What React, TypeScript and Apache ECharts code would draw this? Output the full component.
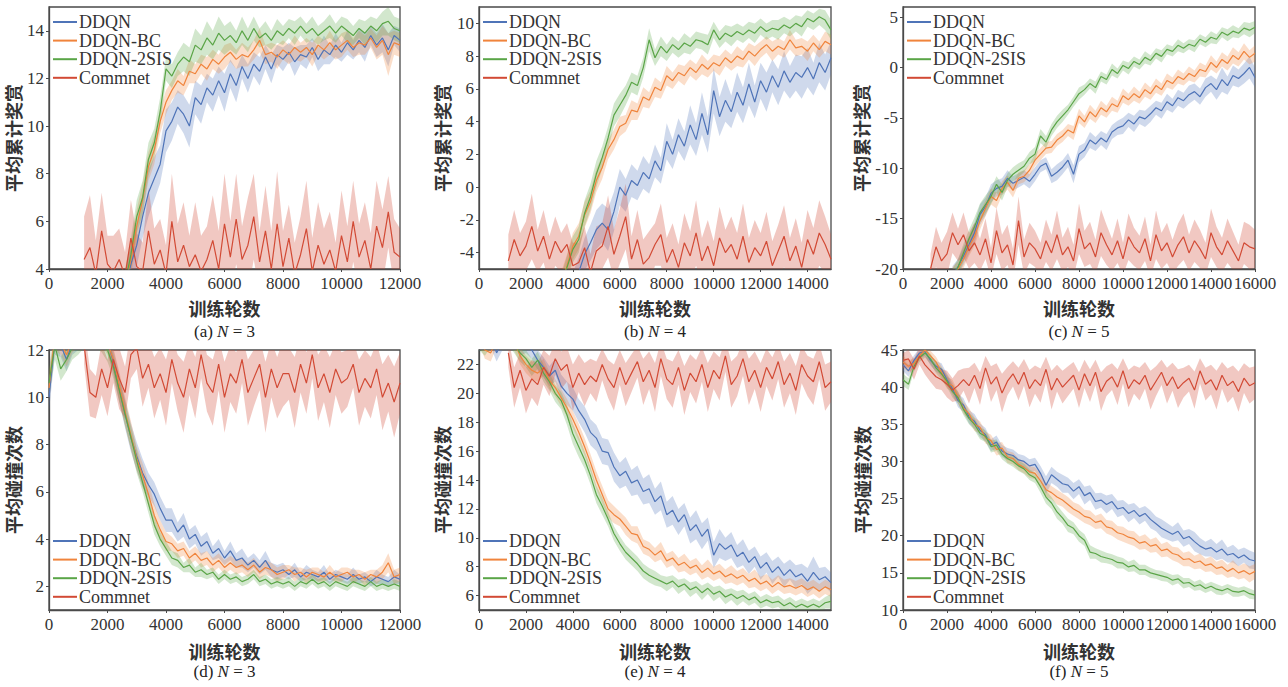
import React, { useEffect, useRef } from "react";
import * as echarts from "echarts";

const NAMES = ["DDQN", "DDQN-BC", "DDQN-2SIS", "Commnet"];
const COLORS = ["#4f74b8", "#f0843c", "#5aa547", "#d24a35"];
const BAND_COLORS = ["rgba(79,116,184,0.27)", "rgba(240,132,60,0.27)", "rgba(90,165,71,0.27)", "rgba(210,74,53,0.3)"];

const X_TICKS_12K = [0, 2000, 4000, 6000, 8000, 10000, 12000];
const X_TICKS_15K = [0, 2000, 4000, 6000, 8000, 10000, 12000, 14000];
const X_TICKS_16K = [0, 2000, 4000, 6000, 8000, 10000, 12000, 14000, 16000];
const Y_TICKS_A = [4, 6, 8, 10, 12, 14];
const Y_TICKS_B = [-4, -2, 0, 2, 4, 6, 8, 10];
const Y_TICKS_C = [-20, -15, -10, -5, 0, 5];
const Y_TICKS_D = [2, 4, 6, 8, 10, 12];
const Y_TICKS_E = [6, 8, 10, 12, 14, 16, 18, 20, 22];
const Y_TICKS_F = [10, 15, 20, 25, 30, 35, 40, 45];

// ---------- (a) N=3 reward, step 200 ----------
const A_DDQN = [2.2,3.1,4.2,5.0,6.2,7.2,7.8,8.4,9.8,10.2,10.8,10.5,10.0,11.2,10.9,11.6,11.3,11.9,11.4,12.2,11.7,12.5,12.0,12.6,12.3,12.9,12.4,13.0,12.8,13.1,12.7,13.0,12.9,13.3,12.8,13.2,13.0,13.4,13.1,13.5,13.2,13.6,13.3,13.8,13.4,13.7,13.2,13.8,13.6];
const A_DDQN_W = [0.6,0.7,0.8,0.9,0.9,1.0,0.9,0.8,0.9,0.8,0.7,0.8,0.9,0.7,0.8,0.6,0.7,0.6,0.8,0.6,0.7,0.5,0.6,0.5,0.6,0.5,0.6,0.4,0.5,0.4,0.6,0.4,0.5,0.4,0.5,0.6,0.4,0.5,0.4,0.5,0.4,0.5,0.6,0.4,0.5,0.6,0.7,0.4,0.5];
const A_BC = [2.4,3.3,4.4,5.8,6.9,8.3,9.0,10.2,11.0,11.5,11.9,11.7,12.3,12.2,12.6,12.4,12.8,12.6,12.9,13.1,12.8,13.0,12.9,13.2,13.6,13.0,13.1,12.9,13.2,13.0,13.3,13.1,13.3,13.0,13.4,13.2,13.5,13.2,13.4,13.6,13.3,13.5,13.4,13.7,13.3,13.6,13.0,13.5,13.4];
const A_BC_W = [0.5,0.6,0.7,0.7,0.7,0.6,0.6,0.5,0.5,0.4,0.5,0.4,0.5,0.4,0.4,0.5,0.4,0.4,0.5,0.4,0.4,0.5,0.4,0.4,0.5,0.4,0.4,0.5,0.4,0.4,0.5,0.4,0.4,0.5,0.4,0.4,0.5,0.4,0.5,0.4,0.4,0.5,0.4,0.4,0.5,0.6,0.9,0.5,0.5];
const A_2SIS = [2.5,3.4,4.6,6.2,7.0,8.6,9.3,10.6,12.4,12.1,12.6,12.9,12.7,13.4,13.2,13.7,13.4,13.9,13.6,13.8,13.5,14.0,13.6,14.1,13.7,13.9,13.6,14.0,13.8,14.1,13.9,14.2,13.9,14.1,13.8,14.0,14.2,13.9,14.2,14.0,13.8,14.1,13.9,14.2,14.0,14.3,14.4,14.1,14.0];
const A_2SIS_W = [0.5,0.6,0.7,0.7,0.7,0.7,0.6,0.6,0.5,0.5,0.5,0.6,0.6,0.7,0.6,0.7,0.6,0.7,0.6,0.6,0.5,0.6,0.5,0.5,0.4,0.5,0.4,0.5,0.4,0.4,0.5,0.4,0.4,0.5,0.4,0.4,0.5,0.4,0.4,0.5,0.4,0.4,0.5,0.4,0.5,0.5,0.6,0.5,0.5];
const A_COMM = [4.4,4.9,3.8,5.6,4.2,3.9,4.4,3.7,5.3,4.1,3.9,5.6,4.2,4.8,3.8,6.0,4.3,5.0,4.1,4.6,3.9,4.4,5.2,4.0,5.9,4.5,6.1,4.4,5.0,6.2,4.3,5.6,4.0,5.9,4.1,5.3,3.8,4.6,5.7,3.9,5.0,4.2,4.8,3.9,5.4,4.3,6.0,4.5,5.2,4.0,5.8,4.9,6.4,4.7,4.5];
const A_COMM_W = [1.8,2.2,1.4,1.6,1.2,1.5,1.3,1.0,1.6,1.4,1.2,1.8,1.5,1.3,1.2,2.0,1.6,1.8,1.3,2.2,1.5,1.4,1.9,1.6,2.1,1.5,1.9,1.4,2.0,1.8,1.3,1.9,1.6,2.2,1.5,1.4,1.3,1.6,2.0,1.4,1.8,1.5,1.6,1.2,1.9,1.5,1.7,1.4,1.6,1.5,1.9,1.6,1.5,1.4,1.2];

// ---------- (b) N=4 reward, step 250 ----------
const B_DDQN = [-6.0,-5.2,-4.1,-3.4,-2.6,-2.2,-2.6,-1.5,0.0,-0.5,0.4,0.1,0.9,0.5,1.6,1.0,2.8,2.0,3.2,2.5,3.8,2.9,4.5,3.2,5.9,4.3,5.3,4.6,5.8,5.0,6.3,5.2,6.5,5.8,6.8,6.1,7.1,6.4,7.0,6.7,7.3,6.6,7.6,7.0,7.9];
const B_DDQN_W = [0.8,0.9,1.0,1.1,1.2,1.2,1.3,1.2,1.1,1.0,1.0,0.9,1.0,0.9,1.0,0.8,1.1,0.9,1.0,0.9,1.2,1.0,1.3,1.1,1.4,1.2,1.3,1.0,1.2,1.1,1.3,1.0,1.1,1.2,1.0,1.1,1.2,1.0,1.1,1.3,1.2,1.0,1.2,1.1,1.0];
const B_BC = [-5.8,-4.8,-3.6,-3.0,-1.7,-0.9,0.4,1.2,2.3,2.9,3.7,3.9,4.7,4.6,5.5,5.3,6.1,5.9,6.8,6.5,7.0,6.8,7.3,7.0,7.5,7.2,7.6,7.4,7.9,7.6,8.0,7.8,8.3,8.0,8.4,8.7,8.3,8.6,8.4,9.0,8.5,8.6,8.3,8.8,8.4,8.9,8.7];
const B_BC_W = [0.6,0.7,0.8,0.8,0.8,0.7,0.7,0.7,0.6,0.6,0.6,0.5,0.6,0.5,0.6,0.5,0.6,0.5,0.6,0.5,0.5,0.6,0.5,0.5,0.6,0.5,0.5,0.6,0.5,0.5,0.6,0.5,0.5,0.6,0.5,0.5,0.6,0.5,0.5,0.6,0.5,0.5,0.6,0.5,0.5,0.6,0.6];
const B_2SIS = [-6.0,-4.9,-3.8,-3.2,-1.6,-0.6,0.8,1.8,3.0,4.4,5.0,5.6,6.4,6.2,7.3,9.0,7.9,8.6,8.2,8.7,8.4,8.8,8.6,9.0,8.9,8.7,9.6,9.0,9.4,9.2,9.5,9.3,9.6,9.4,9.8,9.5,9.7,9.6,9.9,9.7,10.0,9.8,10.3,10.1,10.4,10.2,9.6];
const B_2SIS_W = [0.6,0.7,0.8,0.8,0.8,0.8,0.8,0.7,0.7,0.7,0.7,0.6,0.6,0.6,0.6,0.7,0.5,0.6,0.5,0.5,0.5,0.6,0.5,0.5,0.5,0.6,0.5,0.5,0.5,0.6,0.5,0.5,0.5,0.6,0.5,0.5,0.5,0.6,0.5,0.5,0.5,0.6,0.5,0.5,0.5,0.6,0.6];
const B_COMM = [-4.5,-3.2,-4.2,-3.6,-2.4,-3.9,-3.0,-4.4,-3.3,-4.0,-3.5,-4.8,-4.6,-3.7,-5.2,-3.9,-3.6,-2.4,-4.1,-3.0,-1.8,-4.4,-3.2,-4.7,-4.3,-3.5,-2.9,-4.6,-3.8,-4.9,-3.4,-4.2,-2.8,-4.5,-3.6,-4.8,-3.1,-4.0,-3.5,-4.4,-3.0,-4.6,-3.7,-4.2,-3.3,-4.8,-3.9,-3.0,-4.5,-3.6,-4.9,-3.2,-4.1,-2.8,-3.5,-4.4];
const B_COMM_W = [1.6,1.8,1.4,1.5,2.0,1.3,1.6,1.4,1.5,1.2,1.3,1.4,1.2,1.3,1.1,1.5,1.4,1.9,1.5,1.7,2.0,1.4,1.8,1.5,1.6,1.3,1.9,1.5,1.6,1.4,1.8,1.5,2.0,1.4,1.6,1.5,1.9,1.4,1.7,1.6,2.0,1.5,1.7,1.4,1.8,1.5,1.6,1.9,1.4,1.7,1.5,1.8,1.6,2.0,1.7,1.5];

// ---------- (c) N=5 reward, step 250 ----------
const C_DDQN = [-20.5,-19.8,-18.7,-17.6,-16.4,-14.6,-13.8,-12.5,-12.0,-11.8,-11.0,-11.5,-11.2,-10.9,-11.3,-10.6,-9.8,-9.5,-10.8,-10.4,-9.9,-9.2,-10.6,-8.6,-8.2,-7.2,-7.6,-7.0,-7.4,-6.4,-6.0,-5.8,-5.2,-5.6,-4.9,-5.1,-4.6,-4.0,-4.3,-3.4,-3.8,-3.0,-3.3,-2.7,-2.4,-2.9,-2.0,-1.6,-2.2,-1.2,-1.8,-0.8,-1.1,-0.6,0.0,-1.0];
const C_DDQN_W = [0.8,0.8,0.9,0.9,1.0,1.0,0.9,0.9,0.8,0.8,0.8,0.7,0.7,0.7,0.7,0.7,0.6,0.6,0.7,0.8,0.7,0.7,0.9,0.8,0.7,0.8,0.7,0.7,0.8,0.7,0.7,0.8,0.7,0.8,0.7,0.8,0.8,0.7,0.8,0.8,0.7,0.8,0.8,0.9,0.8,0.8,0.9,0.8,1.0,1.2,0.9,1.0,0.9,1.0,1.1,1.0];
const C_BC = [-20.6,-20.0,-19.0,-17.8,-16.8,-15.2,-14.0,-12.8,-13.2,-12.0,-11.4,-12.2,-11.0,-10.8,-10.2,-9.2,-8.6,-8.0,-7.9,-7.2,-6.8,-6.2,-6.5,-4.8,-5.4,-4.4,-4.9,-4.0,-4.4,-3.6,-3.9,-2.8,-3.2,-2.6,-3.0,-2.2,-2.6,-1.8,-2.2,-1.3,-1.6,-0.9,-1.2,-0.6,-0.9,-0.2,-0.4,0.5,0.0,0.8,0.4,1.2,0.8,1.6,1.0,1.4];
const C_BC_W = [0.8,0.8,0.9,0.9,0.9,0.9,0.8,0.8,0.8,0.7,0.7,0.7,0.6,0.6,0.6,0.6,0.6,0.6,0.6,0.6,0.6,0.6,0.7,0.7,0.6,0.7,0.6,0.7,0.6,0.7,0.6,0.7,0.6,0.7,0.6,0.7,0.6,0.7,0.6,0.7,0.6,0.7,0.6,0.7,0.6,0.7,0.6,0.7,0.6,0.7,0.7,0.8,0.7,0.8,0.7,0.8];
const C_2SIS = [-20.8,-19.8,-18.4,-17.0,-15.8,-14.4,-13.6,-12.8,-11.6,-12.4,-11.2,-10.6,-10.2,-9.8,-9.0,-8.6,-6.8,-7.4,-6.2,-5.4,-4.8,-4.2,-3.4,-2.6,-2.2,-1.6,-2.0,-0.9,-1.2,-0.2,-0.6,0.2,-0.1,0.6,0.3,1.0,0.7,1.4,1.1,1.8,1.6,2.2,1.9,2.3,2.1,2.8,2.5,3.0,2.8,3.5,3.2,3.6,3.4,3.9,3.7,4.0];
const C_2SIS_W = [0.8,0.8,0.9,0.9,0.9,0.9,0.9,0.8,0.8,0.8,0.7,0.7,0.7,0.6,0.6,0.7,0.7,0.6,0.6,0.6,0.6,0.5,0.5,0.6,0.5,0.5,0.6,0.5,0.5,0.6,0.5,0.5,0.6,0.5,0.5,0.6,0.5,0.5,0.6,0.5,0.5,0.6,0.5,0.5,0.6,0.5,0.5,0.6,0.5,0.5,0.6,0.6,0.5,0.6,0.7,0.6];
const C_COMM = [-20.0,-17.8,-19.2,-18.5,-16.4,-17.6,-16.6,-18.2,-17.4,-18.6,-17.0,-19.4,-16.2,-18.4,-17.6,-19.6,-15.2,-18.8,-17.4,-18.0,-19.0,-17.2,-18.4,-16.6,-18.6,-17.8,-19.2,-16.0,-18.0,-17.4,-18.8,-16.4,-17.6,-18.6,-17.2,-19.0,-16.8,-17.8,-18.4,-17.0,-19.2,-16.6,-18.2,-17.4,-18.8,-17.6,-16.8,-18.4,-17.2,-18.0,-19.0,-16.4,-17.8,-18.6,-17.2,-18.2,-19.2,-17.4,-17.8,-18.0];
const C_COMM_W = [1.5,2.0,1.8,2.2,2.0,1.6,2.2,1.8,2.0,1.6,2.0,1.5,2.3,1.8,2.0,1.6,2.4,1.7,2.0,1.8,1.6,2.1,1.8,2.4,1.7,2.0,1.6,2.5,1.8,2.1,1.7,2.3,2.0,1.6,2.2,1.6,2.3,1.9,1.7,2.2,1.6,2.4,1.8,2.0,1.7,2.1,2.3,1.8,2.1,1.9,1.6,2.4,2.0,1.7,2.2,1.9,1.6,2.1,2.2,1.9];

// ---------- (d) N=3 collisions, step 200 ----------
const D_DDQN = [10.0,12.4,12.2,11.6,12.3,12.5,12.8,13.0,12.9,12.8,12.4,11.5,10.4,9.3,8.3,7.5,6.8,6.3,5.9,5.3,4.8,4.8,4.3,4.6,4.0,4.2,3.7,3.9,3.4,3.6,3.2,3.5,3.1,3.2,2.9,3.1,2.8,3.1,2.7,2.6,2.7,2.5,2.7,2.4,2.6,2.5,2.4,2.6,2.3,2.5,2.4,2.3,2.5,2.3,2.4,2.2,2.4,2.3,2.2,2.4,2.3];
const D_DDQN_W = [0.6,0.6,0.5,0.5,0.5,0.5,0.5,0.5,0.5,0.5,0.5,0.5,0.6,0.6,0.6,0.6,0.6,0.5,0.5,0.5,0.5,0.5,0.4,0.5,0.4,0.4,0.4,0.4,0.3,0.4,0.3,0.4,0.3,0.4,0.3,0.3,0.3,0.4,0.3,0.3,0.3,0.2,0.3,0.2,0.3,0.2,0.2,0.3,0.2,0.2,0.2,0.2,0.3,0.2,0.2,0.2,0.3,0.2,0.2,0.3,0.2];
const D_BC = [10.4,12.6,12.3,11.8,12.4,12.6,12.9,13.1,12.8,12.7,12.3,11.6,10.5,9.4,8.4,7.4,6.7,5.9,5.0,4.4,3.9,3.8,3.5,3.6,3.2,3.4,3.1,3.2,2.9,3.1,2.8,3.0,2.8,2.9,2.7,2.9,2.6,2.8,2.7,2.5,2.6,2.7,2.5,2.6,2.4,2.6,2.5,2.4,2.6,2.4,2.5,2.6,2.4,2.5,2.3,2.5,2.4,2.6,3.0,2.4,2.5];
const D_BC_W = [0.6,0.6,0.5,0.5,0.5,0.5,0.5,0.5,0.5,0.5,0.5,0.5,0.6,0.6,0.6,0.5,0.5,0.5,0.5,0.4,0.4,0.3,0.3,0.3,0.3,0.3,0.3,0.3,0.3,0.3,0.3,0.3,0.3,0.3,0.3,0.3,0.3,0.3,0.3,0.3,0.3,0.2,0.3,0.2,0.3,0.2,0.3,0.2,0.3,0.2,0.3,0.2,0.3,0.2,0.3,0.2,0.3,0.3,0.4,0.3,0.3];
const D_2SIS = [10.6,12.2,11.2,11.6,12.1,12.3,12.6,12.8,12.6,12.4,12.0,11.3,10.3,9.3,8.3,7.3,6.4,5.5,4.6,4.0,3.6,3.2,3.1,2.8,2.9,2.6,2.7,2.5,2.6,2.3,2.5,2.3,2.4,2.2,2.3,2.5,2.2,2.3,2.1,2.2,2.1,2.2,2.0,2.2,2.1,2.3,2.1,2.2,2.0,2.2,2.1,2.0,2.2,2.1,2.0,2.2,2.0,2.1,2.0,2.1,2.0];
const D_2SIS_W = [0.6,0.6,0.5,0.5,0.5,0.5,0.5,0.5,0.5,0.5,0.5,0.5,0.5,0.5,0.5,0.5,0.4,0.4,0.4,0.3,0.3,0.3,0.3,0.2,0.3,0.2,0.3,0.2,0.2,0.2,0.2,0.2,0.2,0.2,0.2,0.2,0.2,0.2,0.2,0.2,0.2,0.2,0.2,0.2,0.2,0.2,0.2,0.2,0.2,0.2,0.2,0.2,0.2,0.2,0.2,0.2,0.2,0.2,0.2,0.2,0.2];
const D_COMM = [12.2,10.2,10.0,11.2,10.4,11.6,10.8,10.2,11.8,12.1,10.8,11.4,10.4,11.0,10.2,11.6,10.6,10.0,11.2,10.4,11.8,10.6,10.2,11.4,10.0,11.0,10.6,11.6,10.2,10.8,11.4,10.0,11.2,10.4,11.0,11.0,10.2,11.4,10.6,11.8,10.4,11.0,10.2,11.2,10.6,10.8,11.4,10.2,10.8,10.4,11.2,10.0,10.6,9.8,10.6];
const D_COMM_W = [0.8,1.0,0.9,1.1,1.2,1.0,1.3,1.1,1.0,0.9,1.2,1.0,1.3,1.1,1.4,1.0,1.2,1.5,1.1,1.3,1.0,1.2,1.4,1.1,1.5,1.2,1.3,1.0,1.4,1.2,1.1,1.5,1.2,1.3,1.4,1.1,1.5,1.2,1.3,1.0,1.4,1.2,1.5,1.1,1.3,1.2,1.0,1.4,1.2,1.3,1.1,1.4,1.2,1.5,1.3];

// ---------- (e) N=4 collisions, step 250 ----------
const E_DDQN = [23.5,24.0,23.8,22.8,23.6,24.2,24.0,23.2,23.4,23.0,22.3,21.8,21.2,21.6,20.5,20.0,19.6,18.8,18.2,17.3,16.9,16.0,15.9,14.9,14.3,14.6,13.8,14.0,13.2,13.4,12.5,12.9,11.6,11.9,11.1,11.6,10.5,10.9,10.1,10.6,8.8,9.6,9.2,9.5,8.7,9.0,8.3,8.7,7.9,8.3,7.6,8.0,7.4,7.8,7.3,7.5,7.0,7.6,7.1,7.3,6.9];
const E_DDQN_W = [0.6,0.6,0.6,0.6,0.6,0.6,0.6,0.6,0.6,0.6,0.7,0.7,0.7,0.8,0.8,0.8,0.8,0.8,0.9,0.9,0.9,0.9,0.9,1.0,0.9,1.0,0.9,1.0,0.9,1.0,0.9,1.0,0.9,1.0,0.9,0.8,0.9,1.0,0.9,0.8,0.9,1.0,0.8,0.9,0.8,0.9,0.8,0.7,0.8,0.7,0.8,0.7,0.8,0.7,0.8,0.7,0.9,1.1,0.8,0.7,0.7];
const E_BC = [24.0,23.0,22.8,23.8,24.2,24.0,23.6,22.6,22.0,21.6,21.4,21.8,20.9,20.4,19.7,19.0,18.2,17.3,16.3,15.2,14.0,13.0,12.0,11.6,11.3,10.8,10.3,10.2,9.4,9.2,8.8,9.1,8.4,8.6,8.1,8.3,7.9,8.1,7.6,7.9,7.5,7.7,7.3,7.5,7.2,7.4,7.0,7.2,6.8,7.0,6.6,6.9,6.6,6.7,6.5,6.7,6.4,6.6,6.3,6.6,6.4];
const E_BC_W = [0.6,0.6,0.6,0.6,0.6,0.6,0.6,0.6,0.6,0.6,0.6,0.6,0.6,0.6,0.6,0.6,0.6,0.6,0.6,0.6,0.6,0.6,0.6,0.6,0.5,0.6,0.5,0.6,0.5,0.5,0.5,0.6,0.5,0.5,0.5,0.6,0.5,0.5,0.5,0.6,0.5,0.5,0.5,0.6,0.5,0.5,0.5,0.6,0.5,0.5,0.5,0.5,0.5,0.5,0.5,0.5,0.5,0.5,0.5,0.5,0.5];
const E_2SIS = [23.6,23.2,23.8,24.0,23.6,24.0,23.4,22.8,22.4,21.8,22.3,21.4,20.8,20.0,19.5,18.5,17.2,16.3,15.4,14.3,13.0,12.2,11.3,10.3,9.6,9.0,8.6,8.2,7.7,7.4,7.2,7.0,6.8,7.0,6.6,6.8,6.4,6.6,6.2,6.5,6.1,6.3,5.9,6.1,5.8,6.0,5.7,5.9,5.5,5.7,5.5,5.6,5.3,5.5,5.2,5.4,5.2,5.4,5.2,5.5,5.6];
const E_2SIS_W = [0.6,0.6,0.6,0.6,0.6,0.6,0.6,0.6,0.6,0.6,0.6,0.6,0.6,0.6,0.6,0.7,0.7,0.7,0.6,0.6,0.6,0.6,0.5,0.5,0.5,0.5,0.5,0.5,0.5,0.5,0.5,0.4,0.5,0.4,0.5,0.4,0.5,0.4,0.5,0.4,0.5,0.4,0.5,0.4,0.5,0.4,0.4,0.4,0.4,0.4,0.4,0.4,0.4,0.4,0.4,0.4,0.4,0.4,0.4,0.4,0.5];
const E_COMM = [22.8,20.4,21.6,20.2,21.0,20.6,21.8,21.2,22.4,21.6,22.0,20.4,21.4,20.6,21.2,20.8,22.0,21.0,20.4,21.8,20.6,21.4,22.2,20.8,21.6,20.4,22.4,21.0,20.6,21.8,20.2,21.4,20.8,22.0,20.4,21.6,21.0,22.6,20.6,21.2,22.4,20.8,21.6,20.4,21.8,21.0,22.2,20.6,21.4,20.2,22.0,21.2,20.8,22.2,20.4,20.8];
const E_COMM_W = [1.0,1.4,1.2,1.6,1.3,1.5,1.2,1.4,1.1,1.3,1.2,1.6,1.3,1.5,1.2,1.4,1.1,1.3,1.6,1.2,1.5,1.3,1.1,1.6,1.3,1.7,1.2,1.4,1.6,1.2,1.7,1.3,1.5,1.2,1.7,1.3,1.5,1.1,1.6,1.4,1.2,1.6,1.3,1.7,1.3,1.5,1.2,1.6,1.4,1.7,1.3,1.4,1.6,1.2,1.6,1.4];

// ---------- (f) N=5 collisions, step 250 ----------
const F_DDQN = [43.0,42.2,43.6,44.6,44.8,43.6,42.8,42.4,41.0,39.8,38.2,37.6,36.0,35.4,34.2,33.6,32.2,32.6,31.4,31.0,30.8,30.2,30.0,29.4,29.6,28.4,26.8,28.2,27.6,27.0,26.8,26.0,26.6,25.4,25.8,24.6,24.8,24.2,24.6,23.6,23.8,23.0,23.4,22.6,23.0,22.2,21.6,21.0,20.6,20.2,20.6,19.6,19.9,19.2,18.6,18.2,18.4,17.8,18.2,17.4,17.6,17.0,17.4,16.8,16.6];
const F_DDQN_W = [0.8,0.8,0.7,0.6,0.6,0.7,0.7,0.8,0.8,0.8,0.9,0.9,0.9,1.0,0.9,0.9,0.8,0.9,0.8,0.8,0.8,0.8,0.8,0.9,0.9,1.0,1.2,1.1,1.0,1.2,1.0,1.1,1.0,1.2,1.0,1.1,1.0,1.2,1.0,1.1,1.0,1.2,1.0,1.1,1.0,1.2,1.0,1.2,1.1,1.0,1.2,1.1,1.0,1.3,1.1,1.0,1.2,1.1,1.3,1.0,1.2,1.1,1.0,1.2,1.1];
const F_BC = [43.4,42.8,43.2,44.2,45.0,44.2,43.4,42.0,40.6,40.2,38.6,37.2,36.4,35.0,34.6,33.2,32.8,31.6,31.8,30.6,30.4,29.6,29.2,28.6,28.4,27.4,26.2,25.8,25.2,24.8,24.2,23.6,23.2,22.6,22.4,21.8,22.0,21.2,21.0,20.4,20.2,19.8,19.6,19.0,19.2,18.6,18.8,18.0,18.2,17.6,17.4,16.8,16.9,16.4,16.6,16.0,16.2,15.6,15.8,15.2,15.6,15.0,15.3,14.8,15.2];
const F_BC_W = [0.8,0.8,0.7,0.6,0.6,0.7,0.7,0.8,0.8,0.8,0.8,0.8,0.8,0.9,0.8,0.8,0.8,0.8,0.8,0.8,0.8,0.8,0.8,0.8,0.8,0.9,1.0,0.9,1.0,0.9,1.0,0.9,1.0,0.9,1.0,0.9,1.0,0.9,1.0,0.9,1.0,0.9,1.0,0.9,1.0,0.9,1.0,0.9,1.0,0.9,1.0,0.9,1.0,0.9,1.0,0.9,1.0,0.9,1.0,0.9,1.1,0.9,1.0,1.1,1.0];
const F_2SIS = [41.0,40.4,42.8,44.0,44.6,43.8,42.6,41.8,40.8,39.4,38.6,37.0,35.8,35.0,33.8,33.4,32.0,32.2,31.0,30.4,30.0,29.4,29.0,28.2,27.8,26.6,25.2,24.4,23.2,22.4,21.4,21.0,20.0,19.4,17.8,17.6,17.2,17.0,16.8,16.4,16.3,15.8,16.0,15.4,15.4,15.0,14.8,14.6,14.4,14.0,14.2,13.6,13.7,13.2,13.4,12.9,13.2,12.8,12.6,12.9,12.5,12.4,12.6,12.2,12.0];
const F_2SIS_W = [0.8,0.8,0.7,0.6,0.6,0.7,0.7,0.8,0.8,0.8,0.8,0.8,0.8,0.8,0.8,0.8,0.8,0.8,0.7,0.7,0.7,0.7,0.7,0.7,0.7,0.8,0.9,0.8,0.9,0.8,0.9,0.8,0.8,0.8,0.9,0.7,0.8,0.7,0.7,0.8,0.7,0.7,0.8,0.7,0.7,0.7,0.6,0.7,0.6,0.7,0.6,0.7,0.6,0.6,0.7,0.6,0.6,0.7,0.6,0.6,0.7,0.6,0.6,0.7,0.6];
const F_COMM = [43.6,43.8,42.4,44.2,43.0,42.2,41.4,41.0,40.4,39.6,40.2,41.0,40.2,41.6,39.8,42.6,40.4,41.4,39.2,40.8,41.8,40.4,42.0,39.8,41.0,40.2,42.4,39.6,41.2,40.0,40.8,41.6,39.6,41.8,40.2,42.0,39.4,40.8,41.4,40.0,42.2,39.8,41.0,40.4,41.6,39.6,40.8,42.0,40.2,41.4,39.8,40.6,41.2,39.6,42.2,40.4,41.0,39.6,41.6,40.2,40.8,39.4,41.2,40.2,40.6];
const F_COMM_W = [1.0,1.2,1.4,1.2,1.3,1.5,1.6,1.4,1.8,1.6,2.0,1.5,2.4,1.7,2.2,1.6,2.4,1.8,2.6,1.9,1.7,2.2,1.8,2.5,1.9,2.3,1.7,2.6,1.8,2.2,2.0,1.8,2.4,1.9,2.2,1.7,2.6,2.0,1.8,2.4,1.7,2.5,1.9,2.2,1.8,2.6,2.0,1.7,2.4,1.9,2.6,2.0,1.8,2.5,1.7,2.2,2.0,2.6,1.8,2.3,2.1,2.7,2.0,2.4,2.2];

const REWARD = "平均累计奖赏";
const COLLIDE = "平均碰撞次数";

const PANELS: any[] = [
  { left: 49, top: 7, width: 351, height: 262, xMax: 12000, step: 200, xTicks: X_TICKS_12K, yMin: 4, yMax: 15, yTicks: Y_TICKS_A, yName: REWARD, yGap: 27, xGap: 30, labelY: 331, legendTop: 13, sub: "(a) ", n: "3",
    series: [{ start: 2400, v: A_DDQN, w: A_DDQN_W }, { start: 2400, v: A_BC, w: A_BC_W }, { start: 2400, v: A_2SIS, w: A_2SIS_W }, { start: 1200, v: A_COMM, w: A_COMM_W }] },
  { left: 479, top: 7, width: 352, height: 262, xMax: 15000, step: 250, xTicks: X_TICKS_15K, yMin: -5, yMax: 11, yTicks: Y_TICKS_B, yName: REWARD, yGap: 28, xGap: 30, labelY: 331, legendTop: 13, sub: "(b) ", n: "4",
    series: [{ start: 4000, v: B_DDQN, w: B_DDQN_W }, { start: 3500, v: B_BC, w: B_BC_W }, { start: 3500, v: B_2SIS, w: B_2SIS_W }, { start: 1250, v: B_COMM, w: B_COMM_W }] },
  { left: 903, top: 7, width: 352, height: 262, xMax: 16000, step: 250, xTicks: X_TICKS_16K, yMin: -20, yMax: 6, yTicks: Y_TICKS_C, yName: REWARD, yGap: 33, xGap: 30, labelY: 331, legendTop: 13, sub: "(c) ", n: "5",
    series: [{ start: 2250, v: C_DDQN, w: C_DDQN_W }, { start: 2250, v: C_BC, w: C_BC_W }, { start: 2250, v: C_2SIS, w: C_2SIS_W }, { start: 1250, v: C_COMM, w: C_COMM_W }] },
  { left: 49, top: 350, width: 351, height: 260, xMax: 12000, step: 200, xTicks: X_TICKS_12K, yMin: 1, yMax: 12, yTicks: Y_TICKS_D, yName: COLLIDE, yGap: 27, xGap: 32, labelY: 671, legendTop: 532, sub: "(d) ", n: "3",
    series: [{ start: 0, v: D_DDQN, w: D_DDQN_W }, { start: 0, v: D_BC, w: D_BC_W }, { start: 0, v: D_2SIS, w: D_2SIS_W }, { start: 1200, v: D_COMM, w: D_COMM_W }] },
  { left: 479, top: 350, width: 352, height: 260, xMax: 15000, step: 250, xTicks: X_TICKS_15K, yMin: 5, yMax: 23, yTicks: Y_TICKS_E, yName: COLLIDE, yGap: 28, xGap: 32, labelY: 671, legendTop: 532, sub: "(e) ", n: "4",
    series: [{ start: 0, v: E_DDQN, w: E_DDQN_W }, { start: 0, v: E_BC, w: E_BC_W }, { start: 0, v: E_2SIS, w: E_2SIS_W }, { start: 1250, v: E_COMM, w: E_COMM_W }] },
  { left: 903, top: 350, width: 352, height: 260, xMax: 16000, step: 250, xTicks: X_TICKS_16K, yMin: 10, yMax: 45, yTicks: Y_TICKS_F, yName: COLLIDE, yGap: 32, xGap: 32, labelY: 671, legendTop: 532, sub: "(f) ", n: "5",
    series: [{ start: 0, v: F_DDQN, w: F_DDQN_W }, { start: 0, v: F_BC, w: F_BC_W }, { start: 0, v: F_2SIS, w: F_2SIS_W }, { start: 0, v: F_COMM, w: F_COMM_W }] },
];

const AXIS_COLOR = "#4a4a4a";
const SERIF = "Liberation Serif";
const CJK = "Noto Sans CJK SC";

function buildOption() {
  const series: any[] = [];
  PANELS.forEach((p, pi) => {
    p.series.forEach((s: any, si: number) => {
      const pts = s.v.map((v: number, i: number) => {
        const w = s.w[i] ?? s.w[s.w.length - 1];
        return { x: s.start + i * p.step, v, w };
      });
      // confidence band as one clipped polygon drawn through the axis scales
      series.push({
        type: "custom", name: `${NAMES[si]}#band${pi}`, xAxisIndex: pi, yAxisIndex: pi, silent: true,
        data: pts.map((q: any) => [q.x, q.v - q.w, q.v + q.w]),
        encode: { x: 0, y: [1, 2] },
        renderItem: (params: any, api: any) => {
          if (params.dataIndex !== 0) return null;
          const upper = pts.map((q: any) => api.coord([q.x, q.v + q.w]));
          const lower = pts.map((q: any) => api.coord([q.x, q.v - q.w])).reverse();
          const cs = params.coordSys;
          return {
            type: "polygon",
            shape: { points: upper.concat(lower) },
            style: { fill: BAND_COLORS[si], stroke: "none" },
            clipPath: { type: "rect", shape: { x: cs.x, y: cs.y, width: cs.width, height: cs.height } },
          };
        },
      });
      series.push({
        type: "line", name: NAMES[si], xAxisIndex: pi, yAxisIndex: pi, symbol: "none", silent: true, clip: true,
        data: pts.map((q: any) => [q.x, q.v]),
        lineStyle: { color: COLORS[si], width: 1.2 }, itemStyle: { color: COLORS[si] },
      });
    });
  });

  return {
    animation: false,
    backgroundColor: "#ffffff",
    grid: PANELS.map((p) => ({ left: p.left, top: p.top, width: p.width, height: p.height, show: true,
      borderColor: AXIS_COLOR, borderWidth: 1.3, backgroundColor: "transparent", containLabel: false })),
    xAxis: PANELS.map((p, i) => ({
      type: "value", gridIndex: i, min: 0, max: p.xMax,
      name: "训练轮数", nameLocation: "middle", nameGap: p.xGap,
      nameTextStyle: { fontFamily: CJK, fontSize: 18, fontWeight: "bold", color: "#333" },
      axisLine: { show: true, onZero: false, lineStyle: { color: AXIS_COLOR, width: 1.3 } },
      axisTick: { show: true, length: 3, inside: false, customValues: p.xTicks, lineStyle: { color: AXIS_COLOR } },
      axisLabel: { customValues: p.xTicks, formatter: (v: number) => String(v), showMaxLabel: true, showMinLabel: true,
        hideOverlap: false, fontFamily: SERIF, fontSize: 17, color: "#333", margin: 6 },
      splitLine: { show: false },
    })),
    yAxis: PANELS.map((p, i) => ({
      type: "value", gridIndex: i, min: p.yMin, max: p.yMax,
      name: p.yName, nameLocation: "middle", nameGap: p.yGap, nameRotate: 90,
      nameTextStyle: { fontFamily: CJK, fontSize: 18, fontWeight: "bold", color: "#333" },
      axisLine: { show: true, onZero: false, lineStyle: { color: AXIS_COLOR, width: 1.3 } },
      axisTick: { show: true, length: 3, inside: false, customValues: p.yTicks, lineStyle: { color: AXIS_COLOR } },
      axisLabel: { customValues: p.yTicks, formatter: (v: number) => String(v), showMaxLabel: true, showMinLabel: true,
        fontFamily: SERIF, fontSize: 17, color: "#333", margin: 5 },
      splitLine: { show: false },
    })),
    legend: PANELS.map((p) => ({
      orient: "vertical", left: p.left + 4, top: p.legendTop, padding: 0,
      data: NAMES, icon: "rect", itemWidth: 24, itemHeight: 2, itemGap: 0.6, selectedMode: false,
      textStyle: { fontFamily: SERIF, fontSize: 18, color: "#333", lineHeight: 18, padding: [0, 0, 0, -3] },
    })),
    graphic: PANELS.map((p) => ({
      type: "text", x: p.left + p.width / 2, y: p.labelY, silent: true,
      style: {
        text: `{r|${p.sub}}{i|N}{r| = ${p.n}}`,
        align: "center", verticalAlign: "middle",
        rich: {
          r: { fontFamily: SERIF, fontSize: 17, fill: "#222", color: "#222" },
          i: { fontFamily: SERIF, fontSize: 17, fontStyle: "italic", fill: "#222", color: "#222" },
        },
      },
    })),
    series,
  };
}

export default function App() {
  const ref = useRef<HTMLDivElement>(null);
  useEffect(() => {
    if (!ref.current) return;
    const chart = echarts.init(ref.current, null, { renderer: "svg" });
    chart.setOption(buildOption());
    return () => chart.dispose();
  }, []);
  return (
    <div
      ref={ref}
      style={{ position: "fixed", left: 0, top: 0, width: 1288, height: 687, background: "#fff" }}
    />
  );
}
